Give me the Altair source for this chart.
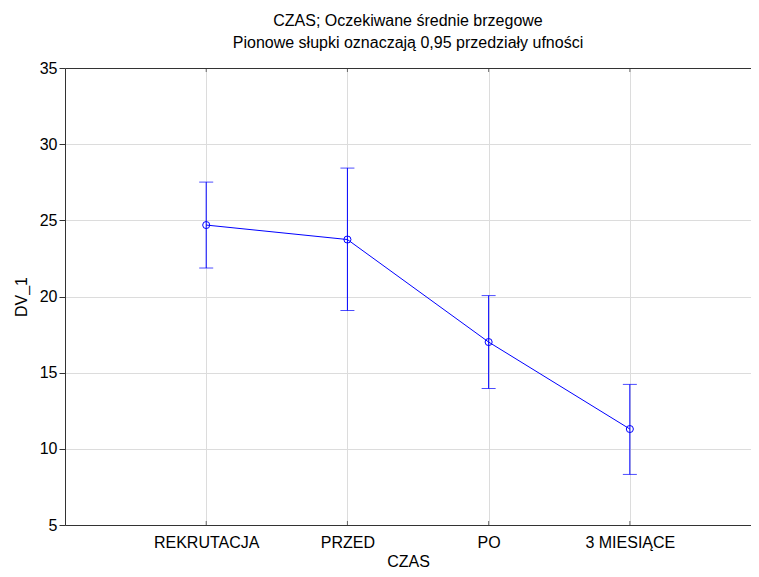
import json
import altair as alt
import pandas as pd

categories = ["REKRUTACJA", "PRZED", "PO", "3 MIESIĄCE"]
positions = [1, 2, 3, 4]
means = [24.69, 23.74, 17.01, 11.30]
lower = [21.87, 19.08, 13.96, 8.32]
upper = [27.51, 28.43, 20.06, 14.23]
y_ticks = [5, 10, 15, 20, 25, 30, 35]
title_lines = ["CZAS; Oczekiwane średnie brzegowe",
               "Pionowe słupki oznaczają 0,95 przedziały ufności"]

df = pd.DataFrame(dict(cat=categories, pos=positions, mean=means, lo=lower, hi=upper))

FONT = "Liberation Sans"
BLUE = "#0000ff"
AX = "#333333"
GRID = "#dcdcdc"
W, H = 686, 457
x_max = 4.858

label_expr = json.dumps([""] + categories, ensure_ascii=False) + "[datum.value]"
xs = alt.Scale(domain=[0, x_max], nice=False, zero=False)
ys = alt.Scale(domain=[5, 35], nice=False, zero=False)

y_axis = alt.Axis(
    values=y_ticks, title="DV_1", grid=True, gridColor=GRID, tickSize=6,
    tickColor=AX, domainColor=AX, labelFont=FONT, labelFontSize=16,
    labelPadding=2, labelColor="black", titleFont=FONT, titleFontSize=16,
    titleFontWeight="normal", titleColor="black", titlePadding=10)

base = alt.Chart(df)

x_bottom = alt.X("pos:Q", scale=xs, axis=alt.Axis(
    orient="bottom", values=positions, labelExpr=label_expr, title="CZAS",
    grid=True, gridColor=GRID, ticks=False, tickSize=0, domainColor=AX,
    labelFont=FONT, labelFontSize=16, labelPadding=9, labelColor="black",
    labelOverlap=False, labelFlush=False,
    titleFont=FONT, titleFontSize=16, titleFontWeight="normal", titleColor="black",
    titlePadding=3))

xn = alt.X("pos:Q", scale=xs, axis=None)

def yq(field):
    return alt.Y(field, type="quantitative", scale=ys, axis=y_axis, title="DV_1")

bars = base.mark_rule(color=BLUE, strokeWidth=1).encode(
    x=x_bottom, y=yq("lo"), y2="hi:Q")
cap_hi = base.mark_tick(orient="horizontal", size=14, thickness=1, color=BLUE).encode(
    x=xn, y=yq("hi"))
cap_lo = base.mark_tick(orient="horizontal", size=14, thickness=1, color=BLUE).encode(
    x=xn, y=yq("lo"))
line = base.mark_line(color=BLUE, strokeWidth=1).encode(
    x=xn, y=yq("mean"))
pts = base.mark_point(shape="circle", filled=False, size=50, color=BLUE,
                      strokeWidth=1, opacity=1).encode(
    x=xn, y=yq("mean"))
top_ticks = base.mark_tick(orient="vertical", size=4, thickness=1, color=AX, yOffset=2).encode(
    x=alt.X("pos:Q", scale=xs, axis=alt.Axis(orient="top", domain=True, domainColor=AX,
                                              ticks=False, labels=False, grid=False, title=None)),
    y=alt.YDatum(35, scale=ys, axis=y_axis, title="DV_1"))
bot_ticks = base.mark_tick(orient="vertical", size=4, thickness=1, color=AX, yOffset=-2).encode(
    x=xn, y=alt.YDatum(5, scale=ys, axis=y_axis, title="DV_1"))

chart = alt.layer(bars, cap_hi, cap_lo, line, pts, top_ticks, bot_ticks).resolve_axis(
    x="independent"
).properties(
    width=W, height=H,
    autosize=alt.AutoSizeParams(type="none"),
    padding={"left": 57, "top": 60, "right": 0, "bottom": 44},
    title=alt.TitleParams(text=title_lines, font=FONT, fontSize=16, fontWeight="normal",
                          color="black", lineHeight=22, anchor="middle", offset=9),
).configure_view(stroke=None).configure(background="white")

chart.save("out.html", embed_options={"renderer": "svg", "actions": False})
